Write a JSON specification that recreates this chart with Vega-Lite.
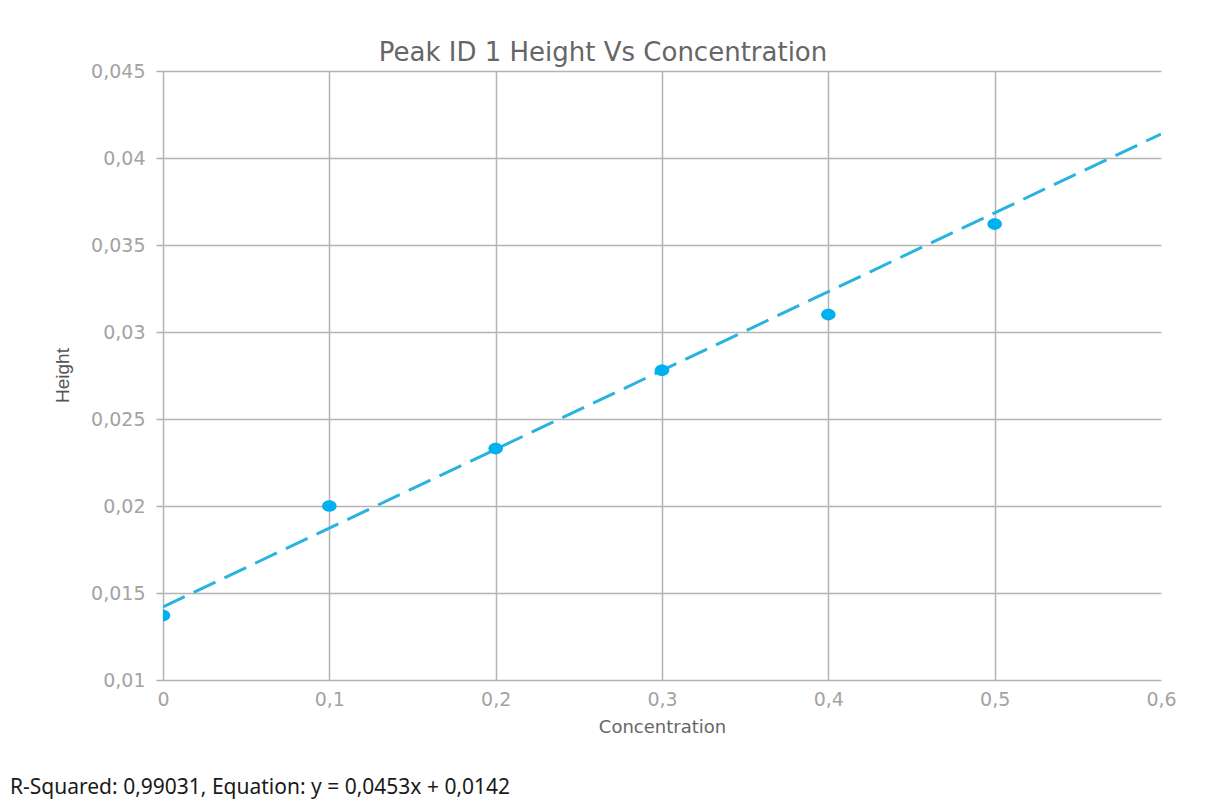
{
  "$schema": "https://vega.github.io/schema/vega-lite/v6.json",
  "autosize": {"type": "pad"},
  "padding": {"left": 10, "top": 40, "right": 10, "bottom": 10},
  "background": "white",
  "bounds": "flush",
  "title": {
    "text": "R-Squared: 0,99031, Equation: y = 0,0453x + 0,0142",
    "orient": "bottom",
    "anchor": "start",
    "frame": "group",
    "dx": -153,
    "offset": 41,
    "font": "Noto Sans",
    "fontSize": 21,
    "fontWeight": "normal",
    "color": "#1a1a1a"
  },
  "datasets": {
    "standards": [
      {"concentration": 0.0, "height": 0.0137},
      {"concentration": 0.1, "height": 0.0200},
      {"concentration": 0.2, "height": 0.0233},
      {"concentration": 0.3, "height": 0.0278},
      {"concentration": 0.4, "height": 0.0310},
      {"concentration": 0.5, "height": 0.0362}
    ],
    "fit": [
      {"concentration": 0.0, "height": 0.0142},
      {"concentration": 0.6, "height": 0.04138}
    ]
  },
  "vconcat": [
    {
      "width": 998,
      "height": 609,
      "title": {
        "text": "Peak ID 1 Height Vs Concentration",
        "anchor": "middle",
        "frame": "group",
        "dx": -59,
        "offset": -4,
        "font": "DejaVu Sans",
        "fontSize": 26,
        "fontWeight": "normal",
        "color": "#666666"
      },
      "layer": [
        {
          "data": {"name": "fit"},
          "mark": {"type": "line", "clip": true, "color": "#2ab3df", "strokeWidth": 3, "strokeDash": [24, 10]},
          "encoding": {
            "x": {"field": "concentration", "type": "quantitative"},
            "y": {"field": "height", "type": "quantitative"}
          }
        },
        {
          "data": {"name": "standards"},
          "mark": {
            "type": "point",
            "clip": true,
            "filled": true,
            "opacity": 1,
            "color": "#00b1ef",
            "size": 135,
            "shape": "M-1.25,0 A1.25,1 0 1,1 1.25,0 A1.25,1 0 1,1 -1.25,0 Z"
          },
          "encoding": {
            "x": {
              "field": "concentration",
              "type": "quantitative",
              "scale": {"domain": [0, 0.6], "nice": false, "zero": false},
              "axis": {
                "title": "Concentration",
                "values": [0, 0.1, 0.2, 0.3, 0.4, 0.5, 0.6],
                "format": ".1~f",
                "ticks": false,
                "domain": false,
                "labelFlush": false,
                "labelPadding": 10,
                "labelFont": "DejaVu Sans",
                "labelFontSize": 19,
                "labelColor": "#a3a3a3",
                "titleFont": "DejaVu Sans",
                "titleFontSize": 18,
                "titleFontWeight": "normal",
                "titleColor": "#666666",
                "titlePadding": 9,
                "gridOpacity": {"condition": {"test": "datum.value > 0.55", "value": 0}, "value": 1}
              }
            },
            "y": {
              "field": "height",
              "type": "quantitative",
              "scale": {"domain": [0.01, 0.045], "nice": false, "zero": false},
              "axis": {
                "title": "Height",
                "values": [0.01, 0.015, 0.02, 0.025, 0.03, 0.035, 0.04, 0.045],
                "format": ".3~f",
                "domain": false,
                "ticks": true,
                "tickSize": 7,
                "tickColor": "#b0b0b0",
                "tickWidth": 1.5,
                "labelPadding": 11,
                "labelFont": "DejaVu Sans",
                "labelFontSize": 19,
                "labelColor": "#a3a3a3",
                "titleFont": "Liberation Sans",
                "titleFontSize": 19,
                "titleFontWeight": "normal",
                "titleColor": "#555555",
                "titleX": -101,
                "titleY": 304,
                "titleAngle": -90,
                "titleAlign": "center",
                "titleBaseline": "middle"
              }
            }
          }
        }
      ]
    }
  ],
  "config": {
    "locale": {
      "number": {"decimal": ",", "thousands": ".", "grouping": [3], "currency": ["", " €"]}
    },
    "view": {"stroke": null},
    "axis": {"gridColor": "#b4b4b4", "gridWidth": 1.5}
  }
}
